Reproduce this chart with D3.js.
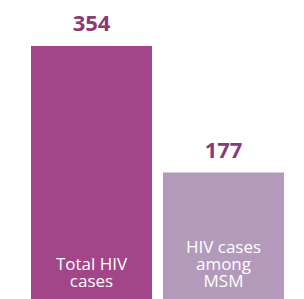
<!DOCTYPE html>
<html>
<head>
<meta charset="utf-8">
<script src="https://cdn.jsdelivr.net/npm/d3@7"></script>
<style>
  body { margin: 0; background: #fff; }
</style>
</head>
<body>
<script>
var categories = ["total", "msm"];
var values = [354, 177];
var labels = [["Total HIV", "cases"], ["HIV cases", "among", "MSM"]];
var colors = ["#a34689", "#b39abb"];

var w = 304, h = 299;

var svg = d3.select("body")
            .append("svg")
            .attr("width", w)
            .attr("height", h);

// two bars, 121px wide with an 11px gap
var xScale = d3.scaleBand()
               .domain(categories)
               .range([31, 284])
               .paddingInner(11 / 132)
               .paddingOuter(0);

var yScale = d3.scaleLinear()
               .domain([0, 354])
               .range([h, 46]);

// bars
svg.selectAll("rect")
   .data(values)
   .enter()
   .append("rect")
   .attr("x", function(d, i) { return xScale(categories[i]); })
   .attr("y", function(d) { return yScale(d); })
   .attr("width", xScale.bandwidth())
   .attr("height", function(d) { return h - yScale(d); })
   .attr("fill", function(d, i) { return colors[i]; });

// value labels on top
svg.selectAll(".val")
   .data(values)
   .enter()
   .append("text")
   .attr("class", "val")
   .attr("x", function(d, i) { return xScale(categories[i]) + xScale.bandwidth() / 2; })
   .attr("y", function(d) { return yScale(d) - 15; })
   .attr("text-anchor", "middle")
   .attr("font-family", "'Open Sans', sans-serif")
   .attr("font-weight", "bold")
   .attr("font-size", "22px")
   .attr("fill", "#8b3b73")
   .text(function(d) { return d; });

// category labels inside bars, bottom aligned, one text per bar
var lineH = 17;
svg.selectAll(".cat")
   .data(labels)
   .enter()
   .append("text")
   .attr("class", "cat")
   .attr("text-anchor", "middle")
   .attr("font-family", "'Open Sans', sans-serif")
   .attr("font-size", "17px")
   .attr("fill", "#fff")
   .each(function(lines, i) {
     var cx = xScale(categories[i]) + xScale.bandwidth() / 2;
     d3.select(this).selectAll("tspan")
       .data(lines)
       .enter()
       .append("tspan")
       .attr("x", cx)
       .attr("y", function(d, j) { return 287 - (lines.length - 1 - j) * lineH; })
       .text(function(d) { return d; });
   });
</script>
</body>
</html>
